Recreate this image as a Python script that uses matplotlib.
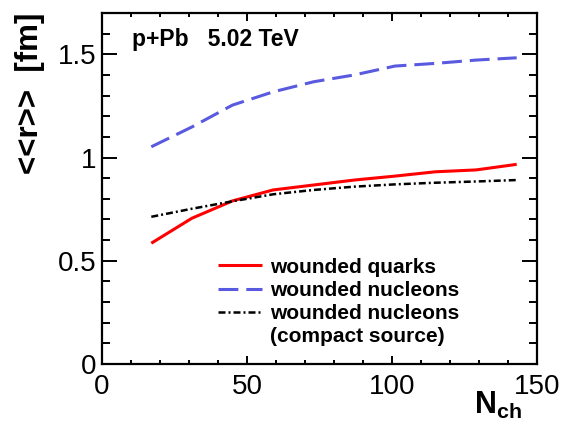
import matplotlib
matplotlib.use('Agg')
import matplotlib.pyplot as plt
from matplotlib.lines import Line2D
from matplotlib.ticker import MultipleLocator

# <<r>> vs N_ch for p+Pb at 5.02 TeV
nch = [17, 31, 45, 59, 73, 87, 101, 115, 129, 143]
quarks = [0.585, 0.706, 0.790, 0.843, 0.867, 0.891, 0.910, 0.931, 0.940, 0.967]
nucleons = [1.052, 1.148, 1.254, 1.318, 1.367, 1.400, 1.443, 1.456, 1.472, 1.483]
compact = [0.713, 0.752, 0.788, 0.822, 0.843, 0.859, 0.870, 0.878, 0.884, 0.891]

labels = ['wounded quarks', 'wounded nucleons', 'wounded nucleons', '(compact source)']

plt.rcParams['font.family'] = ['Liberation Sans', 'DejaVu Sans']
plt.rcParams['mathtext.fontset'] = 'custom'
plt.rcParams['mathtext.bf'] = 'Liberation Sans:bold'
plt.rcParams['mathtext.rm'] = 'Liberation Sans'

fig = plt.figure(figsize=(5.74, 4.22), dpi=100)
ax = fig.add_axes([0.1777, 0.1374, 0.7578, 0.8318])

l1, = ax.plot(nch, quarks, color='#ff0000', lw=2.2, solid_capstyle='butt')
l2, = ax.plot(nch, nucleons, color='#5a5ae0', lw=2.2, linestyle=(0, (6.5, 2.6)))
l3, = ax.plot(nch, compact, color='black', lw=1.8, linestyle=(0, (2.8, 1.2, 0.8, 1.2)))

ax.set_xlim(0, 150)
ax.set_ylim(0, 1.7)
ax.xaxis.set_major_locator(MultipleLocator(50))
ax.xaxis.set_minor_locator(MultipleLocator(10))
ax.yaxis.set_major_locator(MultipleLocator(0.5))
ax.yaxis.set_minor_locator(MultipleLocator(0.1))
ax.set_yticks([0, 0.5, 1, 1.5])
ax.set_yticklabels(['0', '0.5', '1', '1.5'])

for s in ax.spines.values():
    s.set_linewidth(1.6)
ax.tick_params(which='both', direction='in', top=True, right=True, width=1.4,
               labelsize=20)
ax.tick_params(axis='x', which='major', length=6, pad=7)
ax.tick_params(axis='x', which='minor', length=3)
ax.tick_params(axis='y', which='major', length=11, pad=4)
ax.tick_params(axis='y', which='minor', length=6)

ax.set_ylabel('<<r>>  [fm]', fontsize=22.5, fontweight='bold', loc='top')
ax.yaxis.set_label_coords(-0.13, 1.0)
ax.set_xlabel(r'$\mathbf{N}_{\mathbf{ch}}$', fontsize=22, loc='right')
ax.xaxis.set_label_coords(0.966, -0.075)

ax.text(0.069, 0.906, 'p+Pb   5.02 TeV', transform=ax.transAxes,
        fontsize=16.5, fontweight='bold', va='baseline', ha='left')

blank = Line2D([], [], linestyle='none')
ax.legend([l1, l2, l3, blank], labels, loc='upper left',
          bbox_to_anchor=(0.267, 0.303), frameon=False, borderpad=0,
          borderaxespad=0, handlelength=2.1, handletextpad=0.4,
          labelspacing=0.2, prop={'weight': 'bold', 'size': 15})

fig.savefig('out.png', dpi=100)
